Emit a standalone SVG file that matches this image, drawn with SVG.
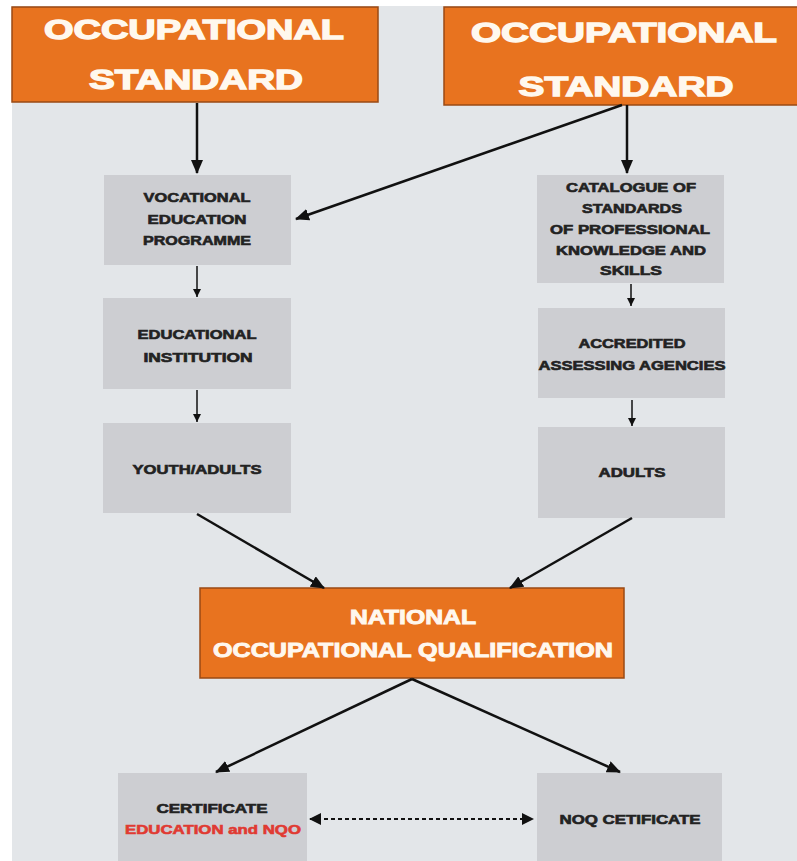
<svg xmlns="http://www.w3.org/2000/svg" width="797" height="861" viewBox="0 0 797 861">
<style>
.orange{fill:#e8731f;stroke:#9a4a14;stroke-width:1.5}
.grey{fill:#cdced2}
.big{font-family:"Liberation Sans",Arial,sans-serif;font-weight:bold;font-size:27px;fill:#fff8ee;stroke:#fff8ee;stroke-width:1.3;text-anchor:middle}
.mid{font-family:"Liberation Sans",Arial,sans-serif;font-weight:bold;font-size:20px;fill:#fff8ee;stroke:#fff8ee;stroke-width:0.9;text-anchor:middle}
.sm{font-family:"Liberation Sans",Arial,sans-serif;font-weight:bold;font-size:12.5px;fill:#222;stroke:#222;stroke-width:0.6;text-anchor:middle}
.red{fill:#e03a32;stroke:#e03a32}
.con{stroke:#111;stroke-width:2.5;fill:none}
.thin{stroke:#111;stroke-width:1.5;fill:none}
.dash{stroke:#111;stroke-width:2;fill:none;stroke-dasharray:4 3}
</style>
<defs>
<marker id="ah" markerUnits="userSpaceOnUse" markerWidth="14" markerHeight="12" refX="13" refY="6" orient="auto"><path d="M0,0 L14,6 L0,12 z" fill="#111"/></marker>
<marker id="as" markerUnits="userSpaceOnUse" markerWidth="8" markerHeight="8" refX="8" refY="4" orient="auto"><path d="M0,0 L8,4 L0,8 z" fill="#111"/></marker>
<marker id="ad" markerUnits="userSpaceOnUse" markerWidth="12" markerHeight="12" refX="11" refY="6" orient="auto-start-reverse"><path d="M0,0 L12,6 L0,12 z" fill="#111"/></marker>
</defs>
<rect x="0" y="0" width="797" height="861" fill="#ffffff"/>
<rect x="12" y="6" width="785" height="855" fill="#e3e6e9"/>

<g id="os-left">
<rect class="orange" x="12" y="7" width="366" height="95"/>
<text class="big" x="194" y="39" textLength="300" lengthAdjust="spacingAndGlyphs">OCCUPATIONAL</text>
<text class="big" x="196" y="89" textLength="214" lengthAdjust="spacingAndGlyphs">STANDARD</text>
</g>
<g id="os-right">
<rect class="orange" x="444" y="7" width="362" height="98"/>
<text class="big" x="624" y="42" textLength="306" lengthAdjust="spacingAndGlyphs">OCCUPATIONAL</text>
<text class="big" x="626" y="96" textLength="215" lengthAdjust="spacingAndGlyphs">STANDARD</text>
</g>
<g id="vep">
<rect class="grey" x="104" y="175" width="187" height="90"/>
<text class="sm" x="197" y="201.5" textLength="107" lengthAdjust="spacingAndGlyphs">VOCATIONAL</text>
<text class="sm" x="197" y="223.5" textLength="99" lengthAdjust="spacingAndGlyphs">EDUCATION</text>
<text class="sm" x="197" y="244.5" textLength="108" lengthAdjust="spacingAndGlyphs">PROGRAMME</text>
</g>
<g id="edu-inst">
<rect class="grey" x="103" y="298" width="188" height="91"/>
<text class="sm" x="197" y="338.5" textLength="119" lengthAdjust="spacingAndGlyphs">EDUCATIONAL</text>
<text class="sm" x="198" y="361.5" textLength="109" lengthAdjust="spacingAndGlyphs">INSTITUTION</text>
</g>
<g id="youth">
<rect class="grey" x="103" y="423" width="188" height="90"/>
<text class="sm" x="197" y="473.5" textLength="129" lengthAdjust="spacingAndGlyphs">YOUTH/ADULTS</text>
</g>
<g id="catalogue">
<rect class="grey" x="537" y="175" width="187" height="108"/>
<text class="sm" x="631" y="191.5" textLength="130" lengthAdjust="spacingAndGlyphs">CATALOGUE OF</text>
<text class="sm" x="632" y="212.5" textLength="100" lengthAdjust="spacingAndGlyphs">STANDARDS</text>
<text class="sm" x="630" y="233.5" textLength="160" lengthAdjust="spacingAndGlyphs">OF PROFESSIONAL</text>
<text class="sm" x="631" y="254.5" textLength="150" lengthAdjust="spacingAndGlyphs">KNOWLEDGE AND</text>
<text class="sm" x="631" y="274.5" textLength="62" lengthAdjust="spacingAndGlyphs">SKILLS</text>
</g>
<g id="accredited">
<rect class="grey" x="538" y="308" width="187" height="90"/>
<text class="sm" x="632" y="347.5" textLength="107" lengthAdjust="spacingAndGlyphs">ACCREDITED</text>
<text class="sm" x="632" y="369.5" textLength="187" lengthAdjust="spacingAndGlyphs">ASSESSING AGENCIES</text>
</g>
<g id="adults">
<rect class="grey" x="538" y="427" width="187" height="91"/>
<text class="sm" x="632" y="477" textLength="67" lengthAdjust="spacingAndGlyphs">ADULTS</text>
</g>
<g id="noq">
<rect class="orange" x="200" y="588" width="424" height="90"/>
<text class="mid" x="413" y="624" textLength="126" lengthAdjust="spacingAndGlyphs">NATIONAL</text>
<text class="mid" x="413" y="657" textLength="400" lengthAdjust="spacingAndGlyphs">OCCUPATIONAL QUALIFICATION</text>
</g>
<g id="cert">
<rect class="grey" x="118" y="773" width="189" height="88"/>
<text class="sm" x="212" y="813" textLength="111" lengthAdjust="spacingAndGlyphs">CERTIFICATE</text>
<text class="sm red" x="213" y="834" textLength="176" lengthAdjust="spacingAndGlyphs">EDUCATION and NQO</text>
</g>
<g id="noq-cert">
<rect class="grey" x="537" y="773" width="185" height="88"/>
<text class="sm" x="630" y="824" textLength="141" lengthAdjust="spacingAndGlyphs">NOQ CETIFICATE</text>
</g>

<g id="connectors">
<line class="con" x1="197" y1="103" x2="197" y2="173" marker-end="url(#ah)"/>
<line class="con" x1="622" y1="105" x2="296" y2="219" marker-end="url(#ah)"/>
<line class="con" x1="627" y1="105" x2="627" y2="173" marker-end="url(#ah)"/>
<line class="thin" x1="197" y1="266" x2="197" y2="297" marker-end="url(#as)"/>
<line class="thin" x1="197" y1="390" x2="197" y2="422" marker-end="url(#as)"/>
<line class="thin" x1="631" y1="284" x2="631" y2="306" marker-end="url(#as)"/>
<line class="thin" x1="632" y1="400" x2="632" y2="426" marker-end="url(#as)"/>
<line class="con" x1="197" y1="514" x2="324" y2="588" marker-end="url(#ah)"/>
<line class="con" x1="632" y1="518" x2="510" y2="588" marker-end="url(#ah)"/>
<line class="con" x1="412" y1="679" x2="216" y2="772" marker-end="url(#ah)"/>
<line class="con" x1="412" y1="679" x2="620" y2="772" marker-end="url(#ah)"/>
<line class="dash" x1="310" y1="819" x2="533" y2="819" marker-start="url(#ad)" marker-end="url(#ad)"/>
</g>
</svg>
